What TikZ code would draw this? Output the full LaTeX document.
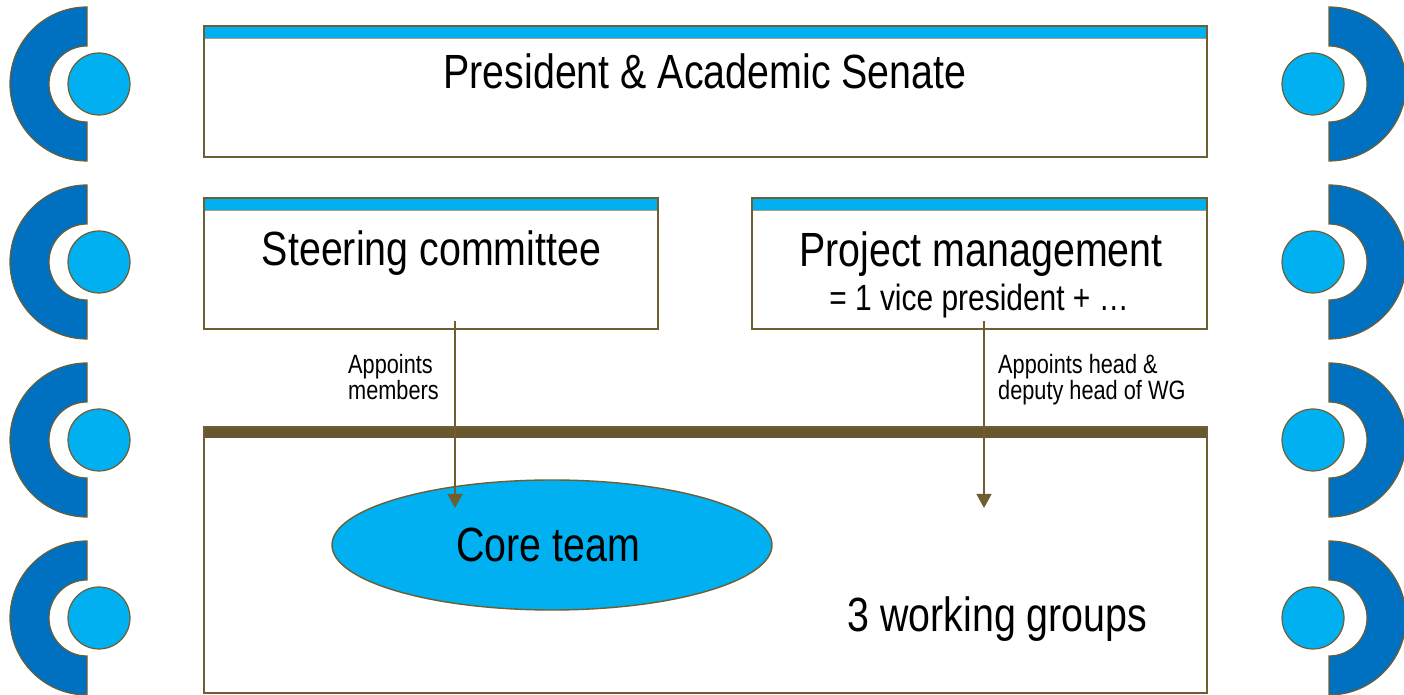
\documentclass[tikz,border=0pt]{standalone}
\usepackage{fontspec}
\setmainfont{Liberation Sans}[FakeStretch=0.82]
\usetikzlibrary{arrows.meta,shapes.geometric}

\definecolor{edgebrown}{HTML}{6E5F32}
\definecolor{barbrown}{HTML}{685830}
\definecolor{lightblue}{HTML}{00B0F0}
\definecolor{darkblue}{HTML}{0070C0}

\tikzset{
  frame/.style={draw=edgebrown, line width=1.4pt, fill=white, inner sep=0pt},
  headbox/.style={frame, path picture={
      \fill[lightblue] (path picture bounding box.north west)
        rectangle ([yshift=-12pt]path picture bounding box.north east);
      \draw[edgebrown!60, line width=0.8pt]
        ([yshift=-12pt]path picture bounding box.north west)
        -- ([yshift=-12pt]path picture bounding box.north east);}},
  groupbox/.style={frame, path picture={
      \fill[barbrown] (path picture bounding box.north west)
        rectangle ([yshift=-11pt]path picture bounding box.north east);}},
  bigtext/.style={inner sep=0pt, anchor=base, font=\fontsize{48}{50}\selectfont},
  subtext/.style={inner sep=0pt, anchor=base, font=\fontsize{36.5}{40}\selectfont},
  smalltext/.style={inner sep=0pt, anchor=north west, align=left,
      font=\fontsize{26.5}{24}\selectfont},
  link/.style={draw=edgebrown, line width=1.5pt,
      -{Triangle[width=15pt,length=14pt]}},
  halfring/.style={fill=darkblue, draw=edgebrown, line width=1.2pt},
  dot/.style={circle, fill=lightblue, draw=edgebrown, line width=1.2pt,
      minimum size=62pt, inner sep=0pt},
}

\begin{document}
\begin{tikzpicture}[x=1pt,y=1pt]
\useasboundingbox (0,0) rectangle (1404,695);

% side ornaments: half rings with a disc beside each
\foreach \cy [count=\i] in {611,433,255,77} {
  \path[halfring] (87,\cy+77) arc[start angle=90,end angle=270,radius=77]
    -- (87,\cy-38) arc[start angle=270,end angle=90,radius=38] -- cycle;
  \node[dot] (ldot\i) at (99,\cy) {};
  \path[halfring] (1329,\cy+77) arc[start angle=90,end angle=-90,radius=77]
    -- (1329,\cy-38) arc[start angle=-90,end angle=90,radius=38] -- cycle;
  \node[dot] (rdot\i) at (1313,\cy) {};
}

% boxes
\node[headbox, minimum width=1003pt, minimum height=131pt] (pres) at (705.5,603.5) {};
\node[headbox, minimum width=454pt, minimum height=131pt] (steer) at (431,431.5) {};
\node[headbox, minimum width=455pt, minimum height=131pt] (proj) at (979.5,431.5) {};
\node[groupbox, minimum width=1003pt, minimum height=266pt] (wg) at (705.5,135) {};
\node[ellipse, fill=lightblue, draw=edgebrown, line width=1.4pt,
      minimum width=440pt, minimum height=130pt, inner sep=0pt] (core) at (552,150) {};

% texts
\node[bigtext] (prestxt) at (705,606) {President \& Academic Senate};
\node[bigtext] (steertxt) at (431.5,429) {Steering committee};
\node[bigtext] (projtxt) at (981,428) {Project management};
\node[subtext] (vicetxt) at (979,384) {= 1 vice president + …};
\node[bigtext] (coretxt) at (548,133) {Core team};
\node[bigtext] (wgtxt) at (997.5,63) {3 working groups};
\node[smalltext] (lab1) at (348,341) {Appoints\\members};
\node[smalltext] (lab2) at (998,341) {Appoints head \&\\deputy head of WG};

% appointment arrows
\draw[link] ([xshift=24pt,yshift=9pt]steer.south) -- ([xshift=-97pt,yshift=37pt]core.center);
\draw[link] ([xshift=4.5pt,yshift=9pt]proj.south) -- ([xshift=278.5pt,yshift=52pt]wg.center);
\end{tikzpicture}
\end{document}
